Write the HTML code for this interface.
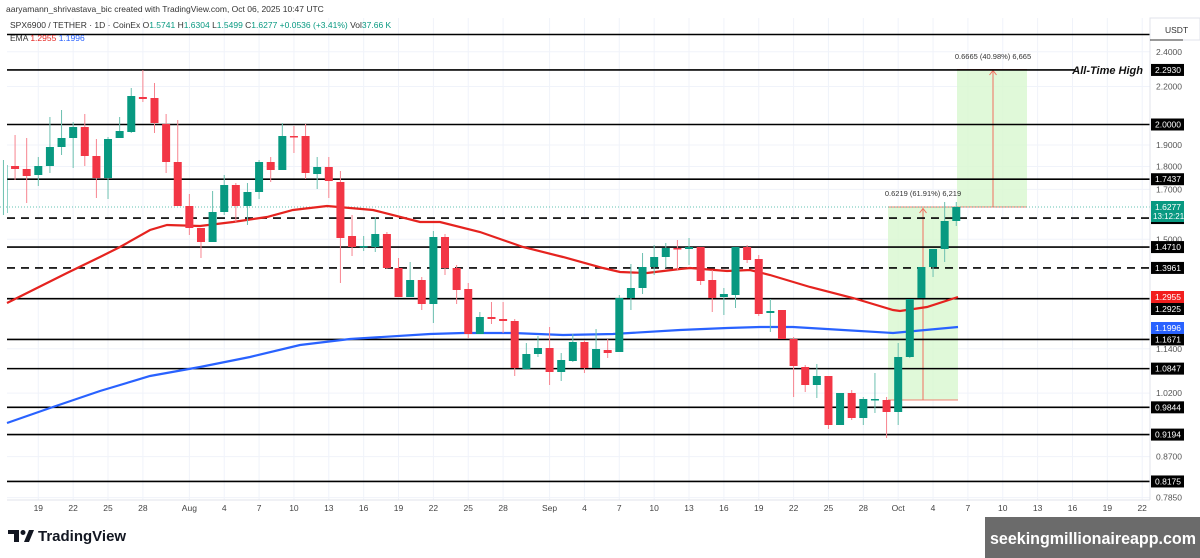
<!DOCTYPE html>
<html><head><meta charset="utf-8"><style>
body{margin:0;background:#fff;width:1200px;height:558px;overflow:hidden;font-family:"Liberation Sans",sans-serif}
svg{position:absolute;left:0;top:0}
</style></head><body>
<svg id="s" width="1200" height="558" xmlns="http://www.w3.org/2000/svg" font-family="Liberation Sans, sans-serif">
<rect width="1200" height="558" fill="#fff"/>
<g id="grid" stroke="#f0f3fa" stroke-width="1"></g>
<g id="box">
<rect x="888" y="207" width="70" height="193" fill="#d8f8cf" opacity="0.8"/>
<rect x="957" y="69" width="70" height="138" fill="#d8f8cf" opacity="0.8"/>
<line x1="888" y1="207" x2="1027" y2="207" stroke="#f08070" stroke-width="1"/>
<line x1="888" y1="400" x2="958" y2="400" stroke="#f08070" stroke-width="1"/>
<line x1="957" y1="69.5" x2="1027" y2="69.5" stroke="#f08070" stroke-width="1"/>
<line x1="923" y1="400" x2="923" y2="209" stroke="#f07060" stroke-width="1"/>
<path d="M919.5 213 L923 208.5 L926.5 213" fill="none" stroke="#f07060"/>
<line x1="993" y1="207" x2="993" y2="71" stroke="#f07060" stroke-width="1"/>
<path d="M989.5 75 L993 70.5 L996.5 75" fill="none" stroke="#f07060"/>
<text x="923" y="196" font-size="7.5" text-anchor="middle" fill="#333">0.6219 (61.91%) 6,219</text>
<text x="993" y="59" font-size="7.5" text-anchor="middle" fill="#333">0.6665 (40.98%) 6,665</text>
</g>
<line x1="0" y1="207" x2="1150" y2="207" stroke="#22ab94" stroke-width="1" stroke-dasharray="1,2" opacity="0.7"/>
<g id="lines" stroke="#000" stroke-width="1.6"></g>
<g id="ema" fill="none" stroke-width="2.2">
<polyline stroke="#e5231f" points="7,303 33,290 67,273 100,257 120,247 150,230 167,225 200,226 233,222 267,217 293,210 327,206 350,208 373,210 420,222 440,222 480,232 523,247 563,257 603,268 620,272 647,273 680,269 690,268 727,271 750,270 770,275 810,287 853,298 893,310 900,311 927,307 958,297"/>
<polyline stroke="#2962ff" points="7,423 50,408 100,391 150,376 200,367 250,357 300,345 350,339 430,334 463,333 513,333 563,335 613,334 680,330 727,328 760,327 793,327 843,330 893,333 958,327"/>
</g>
<g id="candles"></g>
<rect x="1150" y="0" width="50" height="515" fill="#fff"/>
<line x1="1150" y1="18" x2="1150" y2="500" stroke="#e0e3eb"/>
<line x1="7" y1="500" x2="1150" y2="500" stroke="#e0e3eb"/>
<rect x="1150" y="18" width="50" height="22" fill="#fff" stroke="#e0e3eb"/>
<text x="1165" y="33" font-size="8.5" fill="#333">USDT</text>
<line x1="1150" y1="40" x2="1183" y2="40" stroke="#333"/>
<g id="axis" font-size="8.5" fill="#555"></g>
<g id="labels" font-size="8.5" fill="#fff"></g>
<text x="1143" y="74" font-size="11" font-weight="bold" font-style="italic" text-anchor="end" fill="#111">All-Time High</text>
<text x="6" y="12" font-size="8.5" fill="#333">aaryamann_shrivastava_bic created with TradingView.com, Oct 06, 2025 10:47 UTC</text>
<text x="10" y="28" font-size="8.5" fill="#333">SPX6900 / TETHER · 1D · CoinEx  O<tspan fill="#089981">1.5741</tspan>  H<tspan fill="#089981">1.6304</tspan>  L<tspan fill="#089981">1.5499</tspan>  C<tspan fill="#089981">1.6277</tspan>  <tspan fill="#089981">+0.0536 (+3.41%)</tspan>  Vol<tspan fill="#089981">37.66 K</tspan></text>
<text x="10" y="41" font-size="8.5" fill="#333">EMA <tspan fill="#e5231f">1.2955</tspan>  <tspan fill="#2962ff">1.1996</tspan></text>
<g id="dates" font-size="8.5" fill="#444" text-anchor="middle"></g>
<g transform="translate(8,530)">
<path d="M0 0 H11 V12 H6 V4 H0Z" fill="#131722"/><circle cx="15" cy="2.5" r="2.5" fill="#131722"/><path d="M16 12 L21 0 H26 L21 12Z" fill="#131722"/>
<text x="30" y="11" font-size="15" font-weight="bold" fill="#131722">TradingView</text>
</g>
<rect x="985" y="517" width="215" height="41" fill="#6b6b6b"/>
<text x="990" y="544" font-size="17" font-weight="bold" fill="#fff" textLength="206" lengthAdjust="spacingAndGlyphs">seekingmillionaireapp.com</text>
</svg>
<script>
var NS="http://www.w3.org/2000/svg";
function el(p,t,a,txt){var e=document.createElementNS(NS,t);for(var k in a)e.setAttribute(k,a[k]);if(txt!=null)e.textContent=txt;document.getElementById(p).appendChild(e);return e;}
function Y(p){return 124.5-399*(Math.log(p)-Math.log(2));}
function X(d){return 38.3+11.62*d;}
var ticks=[2.4,2.2,1.9,1.8,1.7,1.5,1.14,1.02,0.87,0.785];
ticks.forEach(function(p){el("grid","line",{x1:7,x2:1150,y1:Y(p),y2:Y(p)});});
var dates=[["19",0],["22",3],["25",6],["28",9],["Aug",13],["4",16],["7",19],["10",22],["13",25],["16",28],["19",31],["22",34],["25",37],["28",40],["Sep",44],["4",47],["7",50],["10",53],["13",56],["16",59],["19",62],["22",65],["25",68],["28",71],["Oct",74],["4",77],["7",80],["10",83],["13",86],["16",89],["19",92],["22",95]];
dates.forEach(function(a){var x=X(a[1]);el("grid","line",{x1:x,x2:x,y1:18,y2:500});el("dates","text",{x:x,y:511},a[0]);});
var solid=[2.293,2.0,1.7437,1.471,1.2925,1.1671,1.0847,0.9844,0.9194,0.8175];
el("lines","line",{x1:7,x2:1150,y1:34.5,y2:34.5});
solid.forEach(function(p){var y=Y(p);var x2=p==2.293?1075:1150;el("lines","line",{x1:7,x2:x2,y1:y,y2:y});});
[1.582,1.3961].forEach(function(p){var y=Y(p);el("lines","line",{x1:7,x2:1150,y1:y,y2:y,"stroke-dasharray":"8,6"});});
ticks.forEach(function(p){el("axis","text",{x:1156,y:Y(p)+3},p.toFixed(4));});
function lab(p,txt,bg,y){y=y||Y(p);el("labels","rect",{x:1151,y:y-6,width:33,height:12,fill:bg});el("labels","text",{x:1155,y:y+3},txt);}
[[2.293,"2.2930"],[2.0,"2.0000"],[1.7437,"1.7437"],[1.582,"1.5820"],[1.471,"1.4710"],[1.3961,"1.3961"],[1.1671,"1.1671"],[1.0847,"1.0847"],[0.9844,"0.9844"],[0.9194,"0.9194"],[0.8175,"0.8175"]].forEach(function(a){lab(a[0],a[1],"#000");});
lab(0,"1.2955","#f21e1e",297);lab(0,"1.2925","#000",309);lab(0,"1.1996","#2962ff",328);
el("labels","rect",{x:1151,y:201,width:33,height:21,fill:"#089981"});
el("labels","text",{x:1155,y:210},"1.6277");el("labels","text",{x:1153,y:219,"font-size":"8"},"13:12:21");
var C=[[-3,213,165,160,215],[-2,166,169,135,180],[-1,169,176,138,203],[0,175,166,157,186],[1,166,147,117,173],[2,147,138,110,155],[3,138,127,122,168],[4,127,156,114,166],[5,156,178,139,198],[6,178,139,137,199],[7,138,131,117,138],[8,132,96,88,133],[9,97,99,70,102],[10,98,123,83,133],[11,124,162,114,173],[12,162,206,120,206],[13,206,228,194,235],[14,228,242,228,258],[15,242,212,191,242],[16,212,185,175,215],[17,185,206,183,222],[18,206,192,183,225],[19,192,162,160,199],[20,162,170,157,182],[21,170,136,123,170],[22,136,137,126,153],[23,136,173,124,179],[24,174,167,157,189],[25,167,181,157,198],[26,182,238,171,283],[27,236,247,215,256],[28,247,246,236,251],[29,247,234,217,252],[30,234,268,232,269],[31,268,297,258,297],[32,297,280,262,297],[33,280,304,277,310],[34,304,237,231,323],[35,237,268,234,275],[36,268,290,265,304],[37,289,334,283,338],[38,334,317,312,334],[39,317,319,302,324],[40,319,321,302,333],[41,321,368,319,376],[42,369,354,343,370],[43,354,348,336,357],[44,348,372,327,385],[45,372,360,353,381],[46,361,342,334,362],[47,342,368,340,373],[48,368,349,329,368],[49,350,353,339,358],[50,352,298,295,352],[51,298,288,264,310],[52,288,267,253,294],[53,267,257,245,275],[54,257,248,243,268],[55,248,249,240,270],[56,249,247,238,265],[57,247,281,247,285],[58,280,298,270,312],[59,297,294,288,315],[60,295,247,247,308],[61,247,260,245,263],[62,259,314,255,316],[63,313,311,299,332],[64,310,339,310,339],[65,339,366,337,397],[66,367,385,365,392],[67,385,376,364,398],[68,376,425,376,429],[69,425,393,393,425],[70,393,418,390,420],[71,418,399,397,425],[72,400,399,373,413],[73,400,412,397,438],[74,412,357,343,425],[75,357,299,299,358],[76,298,267,267,298],[77,267,249,249,277],[78,249,221,202,262],[79,221,207,202,226]];
C.forEach(function(c){var x=X(c[0]);var up=c[2]<=c[1];var col=up?"#089981":"#f23645";var wc=up?"#6cc0b0":"#f7848f";
el("candles","line",{x1:x,x2:x,y1:c[3],y2:c[4],stroke:wc,"stroke-width":1});
var t=Math.min(c[1],c[2]),h=Math.max(1.5,Math.abs(c[2]-c[1]));
el("candles","rect",{x:Math.max(7,x-4),y:t,width:x-4<7?Math.max(0,x+4-7):8,height:h,fill:col});});
</script>
</body></html>
